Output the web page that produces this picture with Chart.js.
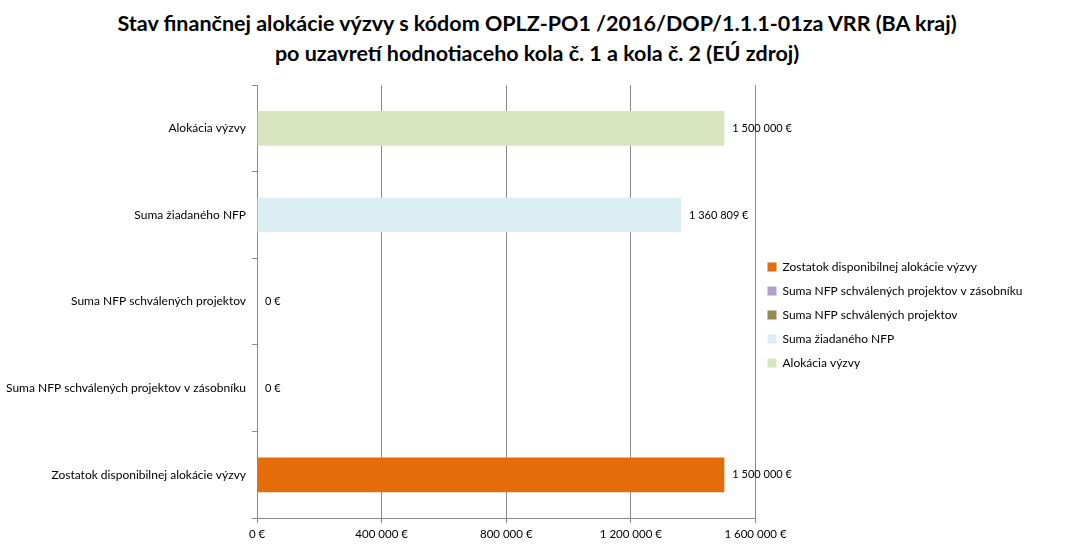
<!DOCTYPE html>
<html>
<head>
<meta charset="utf-8">
<script src="https://cdn.jsdelivr.net/npm/chart.js@4"></script>
<style>
  body { margin: 0; background: #fff; }
  #wrap { width: 1074px; height: 549px; position: relative; }
  #title { position: absolute; left: 0; top: 8px; width: 1074px; text-align: center;
           font: bold 21.5px Lato, "Open Sans", sans-serif; line-height: 30px; color: #000; }
  #box { position: absolute; left: 0; top: 70px; width: 1074px; height: 479px; }
</style>
</head>
<body>
<div id="wrap">
  <div id="title">Stav finančnej alokácie výzvy s kódom OPLZ-PO1 /2016/DOP/1.1.1-01za VRR (BA kraj)<br>po uzavretí hodnotiaceho kola č. 1 a kola č. 2 (EÚ zdroj)</div>
  <div id="box"><canvas id="c"></canvas></div>
</div>
<script>
// categories top to bottom
const categories = [
  "Alokácia výzvy",
  "Suma žiadaného NFP",
  "Suma NFP schválených projektov",
  "Suma NFP schválených projektov v zásobníku",
  "Zostatok disponibilnej alokácie výzvy"
];
const values = [1500000, 1360809, 0, 0, 1500000];
const colors = ["#d7e4bd", "#dbeef4", "#948a54", "#b3a2c7", "#e46c0a"];
const xTicks = [0, 200000, 400000, 600000, 800000, 1000000, 1200000, 1400000, 1600000];

const fmt = v => Math.round(v).toString().replace(/\B(?=(\d{3})+(?!\d))/g, " ") + " €";

const datasets = categories.map((name, i) => ({
  label: name,
  data: categories.map((_, j) => j === i ? values[i] : null),
  backgroundColor: colors[i],
  barPercentage: 0.4,
  categoryPercentage: 1
}));

const valueLabels = {
  id: "valueLabels",
  afterDatasetsDraw(chart) {
    const ctx = chart.ctx;
    ctx.save();
    ctx.font = "11px Lato, sans-serif";
    ctx.fillStyle = "#000";
    ctx.textBaseline = "middle";
    chart.data.datasets.forEach((ds, i) => {
      const bar = chart.getDatasetMeta(i).data[i];
      ctx.fillText(fmt(values[i]), bar.x + 8, bar.y);
    });
    ctx.restore();
  }
};

// leave room between plot and legend
const legendGap = {
  id: "legendGap",
  beforeInit(chart) {
    const fit = chart.legend.fit;
    chart.legend.fit = function () {
      fit.call(this);
      this.width += 50;
    };
  }
};

new Chart(document.getElementById("c"), {
  type: "bar",
  data: { labels: categories, datasets },
  plugins: [valueLabels, legendGap],
  options: {
    indexAxis: "y",
    responsive: true,
    maintainAspectRatio: false,
    animation: false,
    layout: { padding: { top: 15, right: 0, left: 0, bottom: 4 } },
    scales: {
      x: {
        min: 0, max: 1600000,
        afterBuildTicks: axis => { axis.ticks = xTicks.map(v => ({ value: v })); },
        ticks: { callback: v => fmt(v), font: { family: "Lato", size: 11.5 }, color: "#000", maxRotation: 0, padding: 4 },
        grid: { color: "#8c8c8c", tickLength: 5 },
        border: { color: "#8c8c8c" }
      },
      y: {
        stacked: true,
        ticks: { font: { family: "Lato", size: 12 }, color: "#000", padding: 6 },
        grid: { offset: true, drawOnChartArea: false, color: "#8c8c8c", tickLength: 5 },
        border: { color: "#8c8c8c" }
      }
    },
    plugins: {
      legend: {
        position: "right",
        reverse: true,
        labels: { boxWidth: 9, boxHeight: 9, font: { family: "Lato", size: 12 }, color: "#000", padding: 12 }
      },
      tooltip: { enabled: false }
    }
  }
});
</script>
</body>
</html>
